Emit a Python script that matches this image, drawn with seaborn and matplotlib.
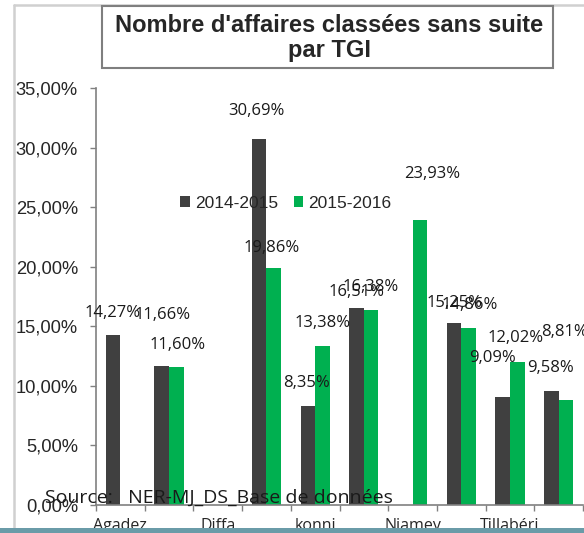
import numpy as np
import pandas as pd
import seaborn as sns
import matplotlib.pyplot as plt
from matplotlib.patches import Rectangle
from matplotlib.ticker import FuncFormatter, FixedLocator

# Données : part des affaires classées sans suite par TGI (%)
tgi = ["Agadez", "Arlit", "Diffa", "Dosso", "konni", "Maradi",
       "Niamey", "Tahoua", "Tillabéri", "Zinder"]
annees = ["2014-2015", "2015-2016"]
val_2014 = [14.27, 11.66, np.nan, 30.69, 8.35, 16.51, np.nan, 15.25, 9.09, 9.58]
val_2015 = [np.nan, 11.60, np.nan, 19.86, 13.38, 16.38, 23.93, 14.86, 12.02, 8.81]
couleurs = ["#404040", "#00B050"]

# décalage des étiquettes (pixels) par rapport au haut de la barre
dec_2014 = [(0, 22), (1, 51), None, (-3, 28), (-1, 23), (0, 16), None, (1, 20), (-10, 39), (-1, 23)]
dec_2015 = [None, (1, 22), None, (-2, 20), (0, 23), (0, 23), (12, 46), (1, 23), (-2, 24), (-1, 68)]

df = pd.DataFrame({
    "TGI": tgi * 2,
    "Période": [annees[0]] * len(tgi) + [annees[1]] * len(tgi),
    "Taux": val_2014 + val_2015,
})

sns.set_style("white")
plt.rcParams["font.family"] = ["Liberation Sans", "DejaVu Sans"]

fig = plt.figure(figsize=(5.84, 5.33), dpi=100)
ax = fig.add_axes([96 / 584, 1 - 505 / 533, 487 / 584, 417 / 533])

sns.barplot(data=df, x="TGI", y="Taux", hue="Période", order=tgi,
            hue_order=annees, palette=couleurs, width=0.6, saturation=1,
            edgecolor="none", ax=ax)

ax.set_xlim(-0.5, len(tgi) - 0.5)
ax.set_ylim(0, 35)
ax.set_yticks(np.arange(0, 36, 5))
ax.yaxis.set_major_formatter(FuncFormatter(lambda v, p: f"{v:.2f}%".replace(".", ",")))
ax.tick_params(axis="y", left=True, length=4, width=1, color="#808080",
               labelsize=13.2, pad=9)

# graduations entre les catégories, libellés un sur deux
ax.xaxis.set_major_locator(FixedLocator(np.arange(-0.5, len(tgi), 1)))
ax.xaxis.set_major_formatter(FuncFormatter(lambda v, p: ""))
ax.xaxis.set_minor_locator(FixedLocator(np.arange(0, len(tgi), 2)))
ax.set_xticklabels([tgi[i] for i in range(0, len(tgi), 2)], minor=True)
ax.tick_params(axis="x", which="major", bottom=True, length=4, width=1, color="#808080")
ax.tick_params(axis="x", which="minor", bottom=False, length=0, labelsize=11.5, pad=9)
for t in ax.get_xticklabels(minor=True):
    t.set_family(["Open Sans", "DejaVu Sans"])

ax.set_xlabel("")
ax.set_ylabel("")
for s in ["top", "right"]:
    ax.spines[s].set_visible(False)
for s in ["left", "bottom"]:
    ax.spines[s].set_color("#808080")
    ax.spines[s].set_linewidth(1.2)

# étiquettes de données
offs = 0.15
for j, (vals, decs) in enumerate([(val_2014, dec_2014), (val_2015, dec_2015)]):
    for i, (v, d) in enumerate(zip(vals, decs)):
        if np.isnan(v) or d is None:
            continue
        xb = i + (offs if j else -offs)
        ax.annotate(f"{v:.2f}%".replace(".", ","), xy=(xb, v), xytext=d,
                    textcoords="offset pixels", ha="center", va="center",
                    fontsize=12, family=["Open Sans", "DejaVu Sans"],
                    color="#1a1a1a", annotation_clip=False)

sns.move_legend(ax, loc="center left", bbox_to_anchor=((180 - 96) / 487, (505 - 203) / 417),
                ncol=2, frameon=False, title=None, fontsize=12.5, borderpad=0,
                borderaxespad=0, handlelength=0.55, handleheight=0.55,
                handletextpad=0.3, columnspacing=0.9)

# titre dans son cadre
fig.add_artist(Rectangle((102 / 584, 1 - 68 / 533), 451 / 584, 62 / 533,
                         transform=fig.transFigure, facecolor="white",
                         edgecolor="#7f7f7f", linewidth=1.5, zorder=5))
fig.text(329 / 584, 1 - 38 / 533, "Nombre d'affaires classées sans suite\npar TGI",
         ha="center", va="center", fontsize=17, fontweight="bold",
         linespacing=1.1, zorder=6)

# cadre extérieur du graphique
fig.add_artist(plt.Line2D([14 / 584, 14 / 584], [0, 1 - 5 / 533],
                          transform=fig.transFigure, color="#d0d0d0", lw=1.8))
fig.add_artist(plt.Line2D([14 / 584, 1], [1 - 5 / 533, 1 - 5 / 533],
                          transform=fig.transFigure, color="#d0d0d0", lw=1.8, zorder=1))

fig.text(45 / 584, 1 - 498 / 533, "Source:   NER-MJ_DS_Base de données",
         ha="left", va="center", fontsize=14, family=["Open Sans", "DejaVu Sans"],
         color="#1a1a1a", zorder=8)

# bande inférieure
fig.add_artist(Rectangle((0, 0), 1, 5.5 / 533, transform=fig.transFigure,
                         facecolor="#6a9ba8", edgecolor="none", zorder=10))

fig.savefig("out.png", dpi=100)
